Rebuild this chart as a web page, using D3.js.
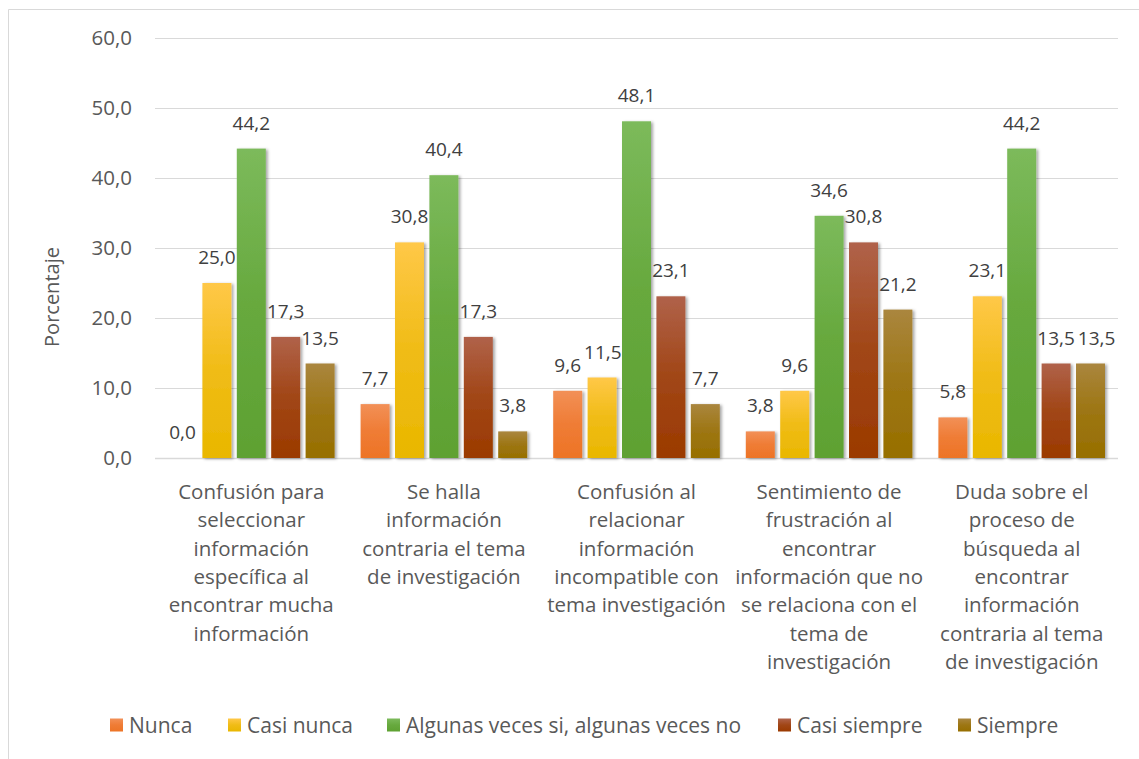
<!DOCTYPE html>
<html>
<head>
<meta charset="utf-8">
<script src="https://cdn.jsdelivr.net/npm/d3@7"></script>
<style>
  html, body { margin: 0; padding: 0; background: #fff; }
  svg { display: block; font-family: "Open Sans", "DejaVu Sans", sans-serif; }
</style>
</head>
<body>
<div id="chart"></div>
<script>
// Categories (x axis), each an array of wrapped lines
var categories = [
    ['Confusión para', 'seleccionar', 'información', 'específica al', 'encontrar mucha', 'información'],
    ['Se halla', 'información', 'contraria el tema', 'de investigación'],
    ['Confusión al', 'relacionar', 'información', 'incompatible con', 'tema investigación'],
    ['Sentimiento de', 'frustración al', 'encontrar', 'información que no', 'se relaciona con el', 'tema de', 'investigación'],
    ['Duda sobre el', 'proceso de', 'búsqueda al', 'encontrar', 'información', 'contraria al tema', 'de investigación']
];
var seriesNames = ['Nunca', 'Casi nunca', 'Algunas veces si, algunas veces no', 'Casi siempre', 'Siempre'];
var nunca        = [0.0, 7.7, 9.6, 3.8, 5.8];
var casiNunca    = [25.0, 30.8, 11.5, 9.6, 23.1];
var algunasVeces = [44.2, 40.4, 48.1, 34.6, 44.2];
var casiSiempre  = [17.3, 17.3, 23.1, 30.8, 13.5];
var siempre      = [13.5, 3.8, 7.7, 21.2, 13.5];
var yTicks = [0, 10, 20, 30, 40, 50, 60];

// gradient colours: [top, bottom]
var seriesColors = [
    ['#f29057', '#ed7426'],
    ['#ffc848', '#e9b700'],
    ['#7cba5b', '#5ea132'],
    ['#b0624a', '#9b3a00'],
    ['#aa863e', '#976f00']
];

var seriesValues = [nunca, casiNunca, algunasVeces, casiSiempre, siempre];

var width = 1139, height = 759;
var plot = { left: 155, right: 1118, top: 38, bottom: 458 };

var svg = d3.select('#chart').append('svg')
    .attr('width', width)
    .attr('height', height);

var defs = svg.append('defs');
seriesColors.forEach(function(c, i) {
    var g = defs.append('linearGradient')
        .attr('id', 'grad' + i)
        .attr('x1', 0).attr('y1', 0).attr('x2', 0).attr('y2', 1);
    g.append('stop').attr('offset', '0%').attr('stop-color', c[0]);
    g.append('stop').attr('offset', '50%').attr('stop-color', d3.interpolateRgb(c[0], c[1])(0.7));
    g.append('stop').attr('offset', '100%').attr('stop-color', c[1]);
});
var shadow = defs.append('filter').attr('id', 'shadow')
    .attr('x', '-20%').attr('y', '-5%').attr('width', '150%').attr('height', '115%');
shadow.append('feDropShadow')
    .attr('dx', 2).attr('dy', 1).attr('stdDeviation', 1.5)
    .attr('flood-color', '#000').attr('flood-opacity', 0.35);

// chart border (top and left visible)
svg.append('path')
    .attr('d', 'M8.5,' + height + 'V9.5H' + width)
    .attr('fill', 'none')
    .attr('stroke', '#d9d9d9')
    .attr('stroke-width', 1);

var y = d3.scaleLinear().domain([0, 60]).range([plot.bottom, plot.top]);
var x0 = d3.scaleBand().domain(d3.range(categories.length)).range([plot.left, plot.right]);
var x1 = d3.scaleBand().domain(d3.range(seriesNames.length))
    .range([13, x0.bandwidth() - 13]).paddingInner(0.157);

// gridlines
svg.append('g').selectAll('line')
    .data(yTicks)
    .enter().append('line')
    .attr('x1', plot.left).attr('x2', plot.right)
    .attr('y1', function(d) { return Math.round(y(d)) + 0.5; })
    .attr('y2', function(d) { return Math.round(y(d)) + 0.5; })
    .attr('stroke', '#d9d9d9')
    .attr('stroke-width', function(d) { return d === 0 ? 1.5 : 1; });

// y axis tick labels
var yAxis = d3.axisLeft(y).tickValues(yTicks).tickSize(0).tickPadding(23)
    .tickFormat(function(d) { return d3.format('.1f')(d).replace('.', ','); });
var yg = svg.append('g').attr('transform', 'translate(' + plot.left + ',0)').call(yAxis);
yg.select('.domain').remove();
yg.selectAll('text')
    .attr('fill', '#595959')
    .style('font-size', '20.5px')
    .style('font-family', '"Open Sans", sans-serif');

// y axis title
svg.append('text')
    .attr('transform', 'translate(59,297) rotate(-90)')
    .attr('text-anchor', 'middle')
    .attr('fill', '#595959')
    .style('font-size', '20px')
    .text('Porcentaje');

// bars
var groups = svg.append('g').selectAll('g')
    .data(categories)
    .enter().append('g')
    .attr('transform', function(d, i) { return 'translate(' + x0(i) + ',0)'; });

groups.each(function(cat, ci) {
    var g = d3.select(this);
    var rows = seriesValues.map(function(vals, si) { return { s: si, v: vals[ci] }; });
    g.selectAll('rect')
        .data(rows)
        .enter().append('rect')
        .attr('x', function(d) { return x1(d.s); })
        .attr('width', x1.bandwidth())
        .attr('y', function(d) { return y(d.v); })
        .attr('height', function(d) { return y(0) - y(d.v); })
        .attr('fill', function(d) { return 'url(#grad' + d.s + ')'; })
        .attr('filter', function(d) { return d.v > 0 ? 'url(#shadow)' : null; });
    var labels = g.selectAll('text.val')
        .data(rows)
        .enter().append('text')
        .attr('class', 'val')
        .attr('x', function(d) { return x1(d.s) + x1.bandwidth() / 2; })
        .attr('y', function(d) { return y(d.v) - 19; })
        .attr('text-anchor', 'middle')
        .attr('fill', '#404040')
        .style('font-size', '19px')
        .text(function(d) { return d3.format('.1f')(d.v).replace('.', ','); });
    // nudge labels that would collide with the previous one
    var prev = null;
    labels.each(function(d) {
        var el = d3.select(this);
        var w = this.getComputedTextLength();
        var cx = +el.attr('x');
        var cy = +el.attr('y');
        if (prev && Math.abs(cy - prev.y) < 20 && cx - w / 2 < prev.right + 3) {
            cx = prev.right + 3 + w / 2;
            el.attr('x', cx);
        }
        prev = { y: cy, right: cx + w / 2 };
    });
    // category label
    var t = g.append('text')
        .attr('text-anchor', 'middle')
        .attr('fill', '#595959')
        .style('font-size', '20.5px');
    cat.forEach(function(line, li) {
        t.append('tspan')
            .attr('x', x0.bandwidth() / 2)
            .attr('y', 499 + li * 28.3)
            .text(line);
    });
});

// legend
var legendX = [110, 228, 387, 778, 958];
var lg = svg.append('g').selectAll('g')
    .data(seriesNames)
    .enter().append('g')
    .attr('transform', function(d, i) { return 'translate(' + legendX[i] + ',725)'; });
lg.append('rect')
    .attr('x', 0).attr('y', -6.5)
    .attr('width', 13).attr('height', 13)
    .attr('fill', function(d, i) { return 'url(#grad' + i + ')'; });
lg.append('text')
    .attr('x', 19).attr('y', 7.5)
    .attr('fill', '#595959')
    .style('font-size', '21px')
    .text(function(d) { return d; });
</script>
</body>
</html>
